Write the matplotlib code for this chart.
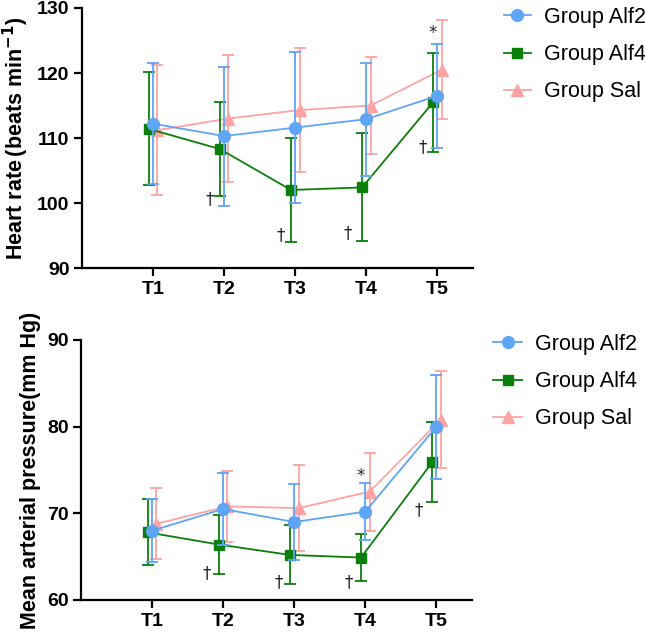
import matplotlib
matplotlib.use("Agg")
import matplotlib.pyplot as plt
from matplotlib.lines import Line2D
import numpy as np

plt.rcParams['font.family'] = ['Liberation Sans', 'DejaVu Sans']

timepoints = ["T1", "T2", "T3", "T4", "T5"]
groups = ["Group Alf2", "Group Alf4", "Group Sal"]

# Heart rate (beats min-1): mean and SD
hr_alf2 = [112.2, 110.3, 111.6, 112.9, 116.5]
hr_alf2_sd = [9.3, 10.7, 11.6, 8.7, 8.0]
hr_alf4 = [111.4, 108.3, 102.0, 102.4, 115.5]
hr_alf4_sd = [8.7, 7.2, 8.0, 8.3, 7.6]
hr_sal = [111.2, 113.0, 114.3, 115.0, 120.5]
hr_sal_sd = [10.0, 9.7, 9.5, 7.5, 7.6]

# Mean arterial pressure (mm Hg): mean and SD
map_alf2 = [68.0, 70.5, 69.0, 70.2, 80.0]
map_alf2_sd = [3.6, 4.1, 4.4, 3.3, 6.0]
map_alf4 = [67.8, 66.4, 65.2, 64.9, 75.9]
map_alf4_sd = [3.8, 3.4, 3.4, 2.7, 4.6]
map_sal = [68.8, 70.8, 70.6, 72.5, 80.8]
map_sal_sd = [4.1, 4.1, 5.0, 4.5, 5.6]

# Significance marks: (x position, y value, symbol)
hr_marks = [(4.93, 126.2, "*"), (1.80, 100.6, "†"), (2.79, 95.1, "†"),
            (3.74, 95.4, "†"), (4.79, 108.6, "†")]
map_marks = [(3.93, 74.3, "*"), (1.77, 63.1, "†"), (2.78, 62.1, "†"),
             (3.76, 62.1, "†"), (4.75, 70.4, "†")]

colors = {"Group Alf2": "#5FA5F5", "Group Alf4": "#0A800A", "Group Sal": "#FFA3A3"}
markers = {"Group Alf2": "o", "Group Alf4": "s", "Group Sal": "^"}
msizes = {"Group Alf2": 8.5, "Group Alf4": 7.5, "Group Sal": 8}
offsets = {"Group Alf2": 0.0, "Group Alf4": -0.06, "Group Sal": 0.06}
zorders = {"Group Alf2": 4, "Group Alf4": 3, "Group Sal": 2}

fig = plt.figure(figsize=(6.45, 6.33), dpi=100)
ax1 = fig.add_axes([82/645, 1-268/633, 391/645, 260/633])
ax2 = fig.add_axes([81/645, 1-600/633, 391/645, 260/633])

x = np.arange(1, 6)

def draw(ax, data, ylim, yticks, ylabel, marks, legend_anchor, handlelen):
    for g in ["Group Sal", "Group Alf4", "Group Alf2"]:
        m, sd = data[g]
        ax.errorbar(x + offsets[g], m, yerr=sd, color=colors[g], marker=markers[g],
                    markersize=msizes[g], linewidth=1.3, elinewidth=1.3, capsize=4,
                    capthick=1.3, zorder=zorders[g])
    for (xx, yy, s) in marks:
        ax.text(xx, yy, s, ha="center", va="center", fontsize=12, color="#222222",
                family=["DejaVu Sans"])
    ax.set_xlim(0, 5.5)
    ax.set_ylim(*ylim)
    ax.set_yticks(yticks)
    ax.set_xticks(x)
    ax.set_xticklabels(timepoints)
    for sp in ["top", "right"]:
        ax.spines[sp].set_visible(False)
    for sp in ["left", "bottom"]:
        ax.spines[sp].set_linewidth(1.6)
    ax.tick_params(axis="both", width=1.6, length=6, labelsize=14, pad=3)
    for lab in ax.get_xticklabels() + ax.get_yticklabels():
        lab.set_fontweight("bold")
    ax.set_ylabel(ylabel, fontsize=15.5, fontweight="bold", labelpad=4)
    handles = [Line2D([], [], color=colors[g], marker=markers[g], markersize=msizes[g],
                      linewidth=1.3) for g in groups]
    fig.legend(handles, groups,
               loc="upper left", bbox_to_anchor=legend_anchor,
               bbox_transform=fig.transFigure, frameon=False,
               fontsize=15.5, borderpad=0, borderaxespad=0,
               handlelength=handlelen, handletextpad=0.6, labelspacing=0.75)

draw(ax1, {"Group Alf2": (hr_alf2, hr_alf2_sd), "Group Alf4": (hr_alf4, hr_alf4_sd),
           "Group Sal": (hr_sal, hr_sal_sd)},
     (90, 130), [90, 100, 110, 120, 130], r"Heart rate$\,$(beats min$^{\mathbf{-1}}$)",
     hr_marks, (504/645, 1-7/633), 1.25)
draw(ax2, {"Group Alf2": (map_alf2, map_alf2_sd), "Group Alf4": (map_alf4, map_alf4_sd),
           "Group Sal": (map_sal, map_sal_sd)},
     (60, 90), [60, 70, 80, 90], "Mean arterial pressure(mm Hg)",
     map_marks, (493/645, 1-334/633), 1.35)

fig.savefig("out.png", dpi=100)
